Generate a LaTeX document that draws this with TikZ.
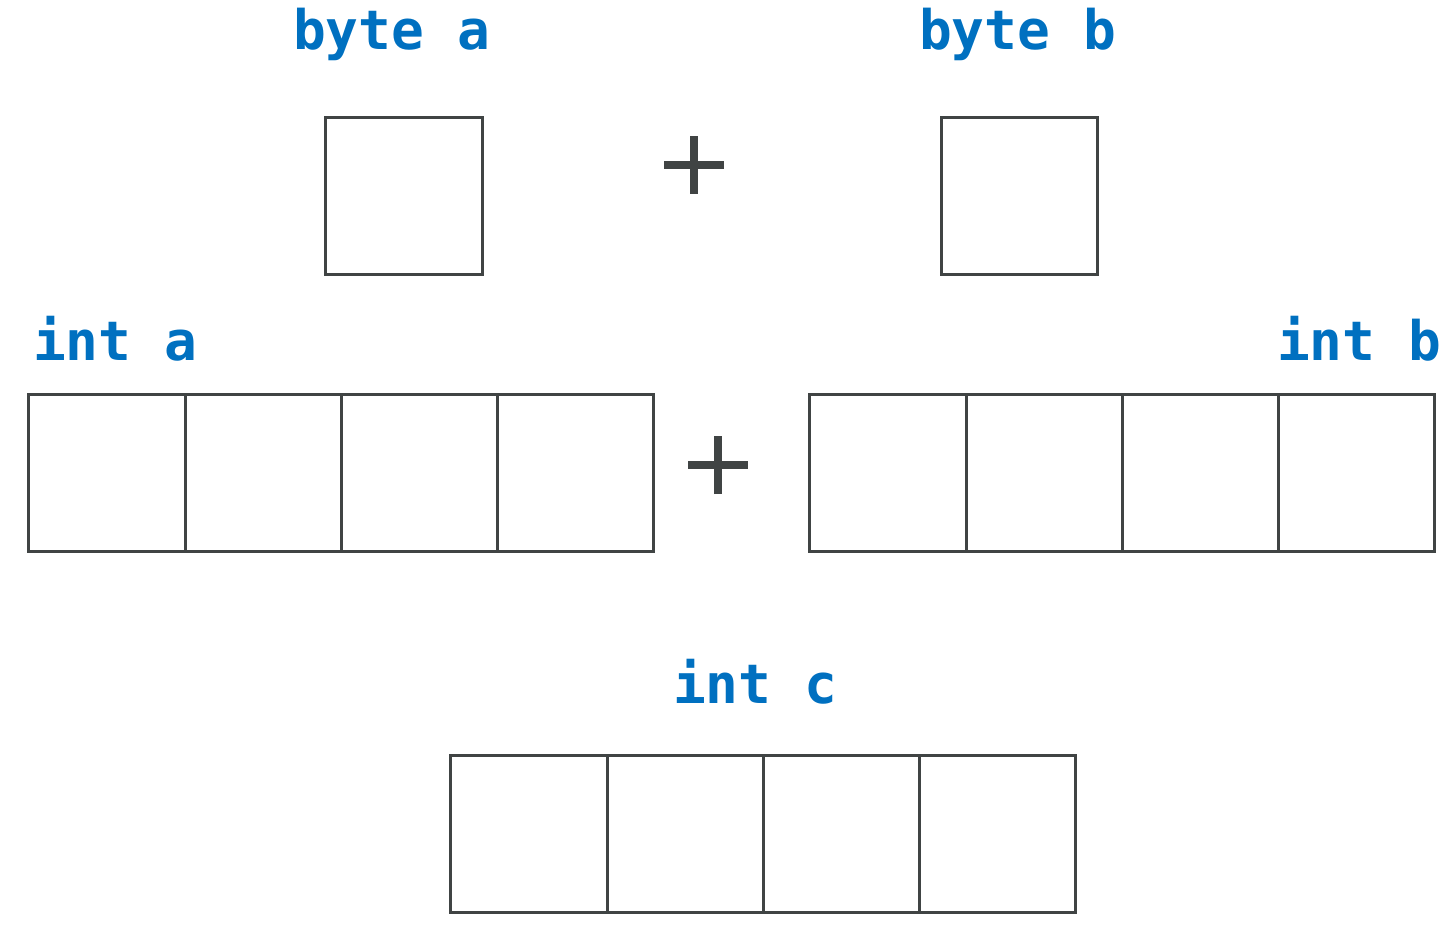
\documentclass[tikz,border=0pt]{standalone}
\usepackage{fontspec}
\newfontfamily\labelfont{DejaVu Sans Mono}
\definecolor{var_blue}{RGB}{0, 112, 192}
\definecolor{cell_gray}{RGB}{64, 68, 68}
\usetikzlibrary{positioning}

\tikzset{
  cell/.style={draw=cell_gray, line width=0.03cm, minimum size=1.5625cm, outer sep=0pt, inner sep=0pt},
  varname/.style={text=var_blue, font=\labelfont\bfseries\fontsize{15.5}{18}\selectfont, inner sep=0pt},
  plussign/.style={draw=cell_gray, line width=0.08cm}
}

\begin{document}
\begin{tikzpicture}
  \useasboundingbox (0,0) rectangle (14.5,9.26);

  % byte a + byte b
  \node[cell] (ba) at (4.04, 7.30) {};
  \node[cell] (bb) at (10.195, 7.30) {};
  \node[varname, anchor=base] (lba) at (3.915, 8.76) {byte a};
  \node[varname, anchor=base] (lbb) at (10.175, 8.76) {byte b};
  \coordinate (p1) at (6.94, 7.61);
  \draw[plussign] (p1) +(-0.3,0) -- +(0.3,0) (p1) +(0,-0.29) -- +(0,0.29);

  % int a + int b
  \node[cell] (a1) at (1.07, 4.53) {};
  \node[cell, right=0pt of a1] (a2) {};
  \node[cell, right=0pt of a2] (a3) {};
  \node[cell, right=0pt of a3] (a4) {};
  \node[cell] (b1) at (8.88, 4.53) {};
  \node[cell, right=0pt of b1] (b2) {};
  \node[cell, right=0pt of b2] (b3) {};
  \node[cell, right=0pt of b3] (b4) {};
  \node[varname, anchor=base] (lia) at (1.15, 5.66) {int a};
  \node[varname, anchor=base] (lib) at (13.59, 5.66) {int b};
  \coordinate (p2) at (7.18, 4.61);
  \draw[plussign] (p2) +(-0.3,0) -- +(0.3,0) (p2) +(0,-0.29) -- +(0,0.29);

  % int c
  \node[cell] (c1) at (5.29, 0.92) {};
  \node[cell, right=0pt of c1] (c2) {};
  \node[cell, right=0pt of c2] (c3) {};
  \node[cell, right=0pt of c3] (c4) {};
  \node[varname, anchor=base] (lic) at (7.55, 2.23) {int c};
\end{tikzpicture}
\end{document}
